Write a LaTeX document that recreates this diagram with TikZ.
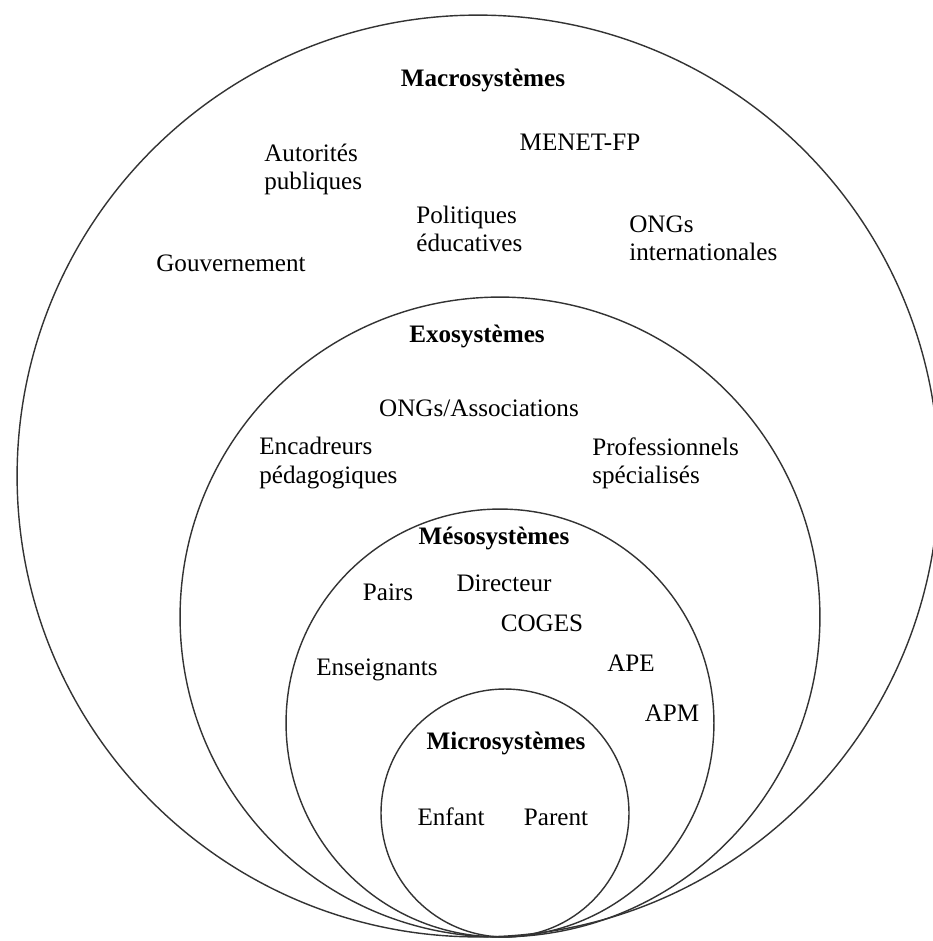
\documentclass[tikz,border=0pt]{standalone}
\usepackage{fontspec}
\setmainfont{Liberation Serif}
\usepackage{tikz}
\usetikzlibrary{positioning}
\newcommand{\ringfont}{\fontsize{14.3}{16}\selectfont}
\tikzstyle{sphere} = [circle, draw=black!80, line width=0.8pt, inner sep=0pt]
\tikzstyle{title} = [inner sep=0pt, font=\ringfont\bfseries]
\tikzstyle{actor} = [inner sep=0pt, font=\ringfont, align=left]

\begin{document}
\begin{tikzpicture}[x=0.02cm, y=-0.02cm]
\path[use as bounding box, fill=white] (0,0) rectangle (933,941);

% nested systems
\node[sphere, minimum size=18.44cm] (macro) at (478,476) {};
\node[sphere, minimum size=12.8cm] (exo) at (500,617) {};
\node[sphere, minimum size=8.56cm] (meso) at (500,723) {};
\node[sphere, minimum size=4.96cm] (micro) at (505,813) {};

% macrosystem
\node[title] (macrotitle) at (483,80) {Macrosystèmes};
\node[actor] (menet) at (580,142) {MENET-FP};
\node[actor, anchor=west] (autorites) at (264,169) {Autorités\\publiques};
\node[actor, anchor=west] (politiques) at (416,229) {Politiques\\éducatives};
\node[actor, anchor=west] (ongint) at (629,238) {ONGs\\internationales};
\node[actor] (gouv) at (231,263) {Gouvernement};

% exosystem
\node[title] (exotitle) at (477,336) {Exosystèmes};
\node[actor] (ongs) at (479,408) {ONGs/Associations};
\node[actor, anchor=west] (encadreurs) at (259,463) {Encadreurs\\pédagogiques};
\node[actor, anchor=west] (professionnels) at (592,463) {Professionnels\\spécialisés};

% mesosystem
\node[title] (mesotitle) at (494,538) {Mésosystèmes};
\node[actor] (pairs) at (388,592) {Pairs};
\node[actor] (directeur) at (504,583) {Directeur};
\node[actor] (coges) at (542,623) {COGES};
\node[actor] (enseignants) at (377,670) {Enseignants};
\node[actor] (ape) at (631,663) {APE};
\node[actor] (apm) at (672,713) {APM};

% microsystem
\node[title] (microtitle) at (506,743) {Microsystèmes};
\node[actor] (enfant) at (451,817) {Enfant};
\node[actor] (parent) at (556,817) {Parent};
\end{tikzpicture}
\end{document}
